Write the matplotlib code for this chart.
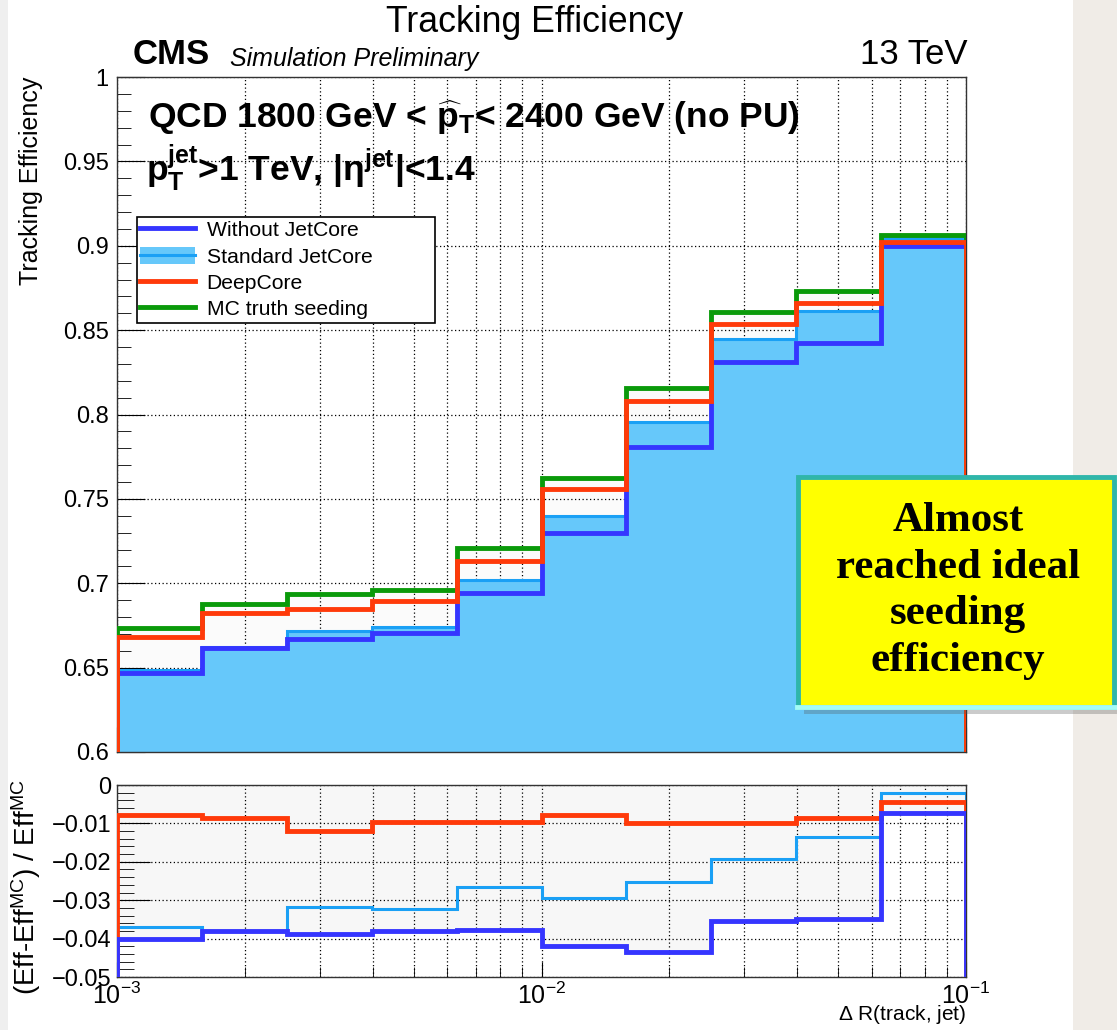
import numpy as np
import matplotlib
matplotlib.use("Agg")
import matplotlib.pyplot as plt
from matplotlib.patches import Rectangle, Patch
from matplotlib.lines import Line2D
from matplotlib.ticker import FuncFormatter, MultipleLocator, LogLocator

plt.rcParams['font.family'] = ['Liberation Sans', 'DejaVu Sans']
plt.rcParams['mathtext.fontset'] = 'custom'
plt.rcParams['mathtext.rm'] = 'Liberation Sans'
plt.rcParams['mathtext.it'] = 'Liberation Sans:italic'
plt.rcParams['mathtext.bf'] = 'Liberation Sans:bold'

# bin edges in Delta R (10 log bins from 1e-3 to 1e-1)
edges = np.logspace(-3, -1, 11)

# efficiency per bin
eff_without = [0.6466, 0.6614, 0.6667, 0.6703, 0.6943, 0.7300, 0.7806, 0.8309, 0.8423, 0.9000]
eff_standard = [0.6487, 0.6620, 0.6716, 0.6742, 0.7017, 0.7400, 0.7958, 0.8450, 0.8615, 0.9045]
eff_deepcore = [0.6682, 0.6826, 0.6847, 0.6896, 0.7133, 0.7560, 0.8080, 0.8535, 0.8658, 0.9021]
eff_mctruth = [0.6737, 0.6879, 0.6936, 0.6960, 0.7206, 0.7625, 0.8159, 0.8607, 0.8729, 0.9061]

# (Eff - Eff_MC) / Eff_MC
ratio_without = [-0.0400, -0.0381, -0.0388, -0.0381, -0.0378, -0.0418, -0.0436, -0.0355, -0.0349, -0.0073]
ratio_standard = [-0.0371, -0.0381, -0.0318, -0.0322, -0.0265, -0.0293, -0.0252, -0.0193, -0.0135, -0.0021]
ratio_deepcore = [-0.0079, -0.0086, -0.0121, -0.0097, -0.0097, -0.0079, -0.0100, -0.0098, -0.0085, -0.0045]

labels = ['Without JetCore', 'Standard JetCore', 'DeepCore', 'MC truth seeding']

c_blue = '#3535ff'
c_fill = '#66c8fa'
c_lblue = '#1aa0f5'
c_red = '#ff3a0a'
c_green = '#0a9a0a'

W, H = 1117, 1030
fig = plt.figure(figsize=(W / 100, H / 100), dpi=100)
fig.patch.set_facecolor('#f0ece7')
fig.patches.append(Rectangle((0, 0), 8 / W, 1, transform=fig.transFigure,
                             facecolor='#efefef', edgecolor='none', zorder=-2))
fig.patches.append(Rectangle((8 / W, 0), (1073 - 8) / W, 1, transform=fig.transFigure,
                             facecolor='white', edgecolor='none', zorder=-1))

ax = fig.add_axes([117 / W, 1 - 752 / H, 849 / W, 675 / H])
ax2 = fig.add_axes([117 / W, 1 - 977 / H, 849 / W, 192 / H])


def fmt(v, p):
    v = round(v, 6)
    if v == 0:
        return '0'
    return f'{v:g}'.replace('-', '\u2212')


def style(a):
    a.set_xscale('log')
    a.set_xlim(1e-3, 1e-1)
    a.set_axisbelow(True)
    a.grid(True, which='major', axis='y', ls=(0, (1, 2)), color='black', lw=0.9)
    a.grid(True, which='both', axis='x', ls=(0, (1, 2)), color='black', lw=0.9)
    a.xaxis.set_minor_locator(LogLocator(base=10, subs=np.arange(2, 10)))
    a.yaxis.set_major_formatter(FuncFormatter(fmt))
    a.tick_params(which='both', direction='in', top=False, right=False)
    for s in a.spines.values():
        s.set_linewidth(1.0)
        s.set_color('#333333')


# top panel
style(ax)
ax.set_ylim(0.6, 1.0)
ax.yaxis.set_major_locator(MultipleLocator(0.05))
ax.yaxis.set_minor_locator(MultipleLocator(0.01))
ax.tick_params(axis='y', which='major', length=20, labelsize=17, pad=6)
ax.tick_params(axis='y', which='minor', length=10)
ax.tick_params(axis='x', which='major', length=18, labelbottom=False)
ax.tick_params(axis='x', which='minor', length=9)

ax.stairs(eff_mctruth, edges, baseline=0.6, fill=True, color='#fbfbfb', zorder=0.3)
ax.stairs(eff_standard, edges, baseline=0.6, fill=True, color=c_fill, zorder=1)
ax.stairs(eff_standard, edges, baseline=0.6, color=c_lblue, lw=2.2, zorder=2)
ax.stairs(eff_without, edges, baseline=0.6, color=c_blue, lw=3.5, zorder=3)
ax.stairs(eff_mctruth, edges, baseline=0.6, color=c_green, lw=3.5, zorder=4)
ax.stairs(eff_deepcore, edges, baseline=0.6, color=c_red, lw=3.5, zorder=5)

ax.set_ylabel('Tracking Efficiency', fontsize=18, loc='top')
ax.yaxis.set_label_coords(-0.087, 1.0)

handles = [Line2D([], [], color=c_blue, lw=3.5),
           (Patch(facecolor=c_fill, edgecolor='none'), Line2D([], [], color=c_lblue, lw=2.2)),
           Line2D([], [], color=c_red, lw=3.5),
           Line2D([], [], color=c_green, lw=3.5)]
leg = ax.legend(handles, labels, loc='upper left',
                bbox_to_anchor=(137 / W, 1 - 325 / H, 298 / W, 108 / H),
                bbox_transform=fig.transFigure, mode='expand', fontsize=15.2,
                frameon=True, fancybox=False, edgecolor='black', framealpha=1,
                handlelength=2.6, handleheight=0.9, labelspacing=0.3, borderpad=0.15,
                handletextpad=0.55, borderaxespad=0)
leg.get_frame().set_linewidth(1.2)
leg.get_frame().set_facecolor('white')

fig.text(148 / W, 1 - 118 / H, r'QCD 1800 GeV < $\mathbf{\widehat{p}_T}$< 2400 GeV (no PU)',
         fontsize=25.5, fontweight='bold', va='center', ha='left')
fig.text(146 / W, 1 - 168 / H, r'$\mathbf{p_T^{jet}}$>1 TeV, |$\mathbf{\eta^{jet}}$|<1.4',
         fontsize=25.5, fontweight='bold', va='center', ha='left')

fig.text(535 / W, 1 - 23 / H, 'Tracking Efficiency', fontsize=25.7, ha='center', va='center')
fig.text(133 / W, 1 - 54 / H, 'CMS', fontsize=25, fontweight='bold', ha='left', va='center')
fig.text(230 / W, 1 - 59 / H, 'Simulation Preliminary', fontsize=18, style='italic',
         ha='left', va='center')
fig.text(968 / W, 1 - 55 / H, '13 TeV', fontsize=25, ha='right', va='center')

# ratio panel
style(ax2)
ax2.set_ylim(-0.05, 0.0)
ax2.yaxis.set_major_locator(MultipleLocator(0.01))
ax2.yaxis.set_minor_locator(MultipleLocator(0.002))
ax2.tick_params(axis='y', which='major', length=24, labelsize=17, pad=4)
ax2.tick_params(axis='y', which='minor', length=12)
ax2.tick_params(axis='x', which='major', length=11, labelsize=18, pad=4)
ax2.tick_params(axis='x', which='minor', length=7)

ax2.stairs(ratio_without, edges, baseline=0.0, fill=True, color='#f7f7f7', zorder=0.3)
ax2.stairs(ratio_standard, edges, baseline=-0.05, color=c_lblue, lw=2.2, zorder=2)
ax2.stairs(ratio_deepcore, edges, baseline=-0.05, color=c_red, lw=3.5, zorder=3)
ax2.stairs(ratio_without, edges, baseline=-0.05, color=c_blue, lw=3.5, zorder=4)

ax2.set_ylabel(r'(Eff-Eff$^{\mathrm{MC}}$) / Eff$^{\mathrm{MC}}$', fontsize=20, loc='top')
ax2.yaxis.set_label_coords(-0.087, 1.03)
ax2.set_xlabel(r'$\Delta$ R(track, jet)', fontsize=15, loc='right', labelpad=-4)

# highlight box
bx0, by0, bx1, by1 = 798, 477, 1114, 707
fig.patches.append(Rectangle(((bx0 + 6) / W, 1 - (by1 + 7) / H), (bx1 - bx0) / W, (by1 - by0) / H,
                             transform=fig.transFigure, facecolor='#555555', alpha=0.3,
                             edgecolor='none', zorder=10))
fig.patches.append(Rectangle((bx0 / W, 1 - by1 / H), (bx1 - bx0) / W, (by1 - by0) / H,
                             transform=fig.transFigure, facecolor='#ffff00',
                             edgecolor='#2fb6aa', lw=3.5, zorder=11))
fig.lines.append(Line2D([(bx0 - 1) / W, (bx1 + 1) / W], [1 - by1 / H, 1 - by1 / H],
                        transform=fig.transFigure, color='#a4fbf6', lw=3.5, zorder=12))
fig.text(958 / W, 1 - 591 / H, 'Almost\nreached ideal\nseeding\nefficiency',
         fontsize=31, fontweight='bold', family=['Liberation Serif', 'DejaVu Serif'],
         ha='center', va='center', linespacing=1.3, zorder=13)

fig.savefig('out.png', dpi=100)
